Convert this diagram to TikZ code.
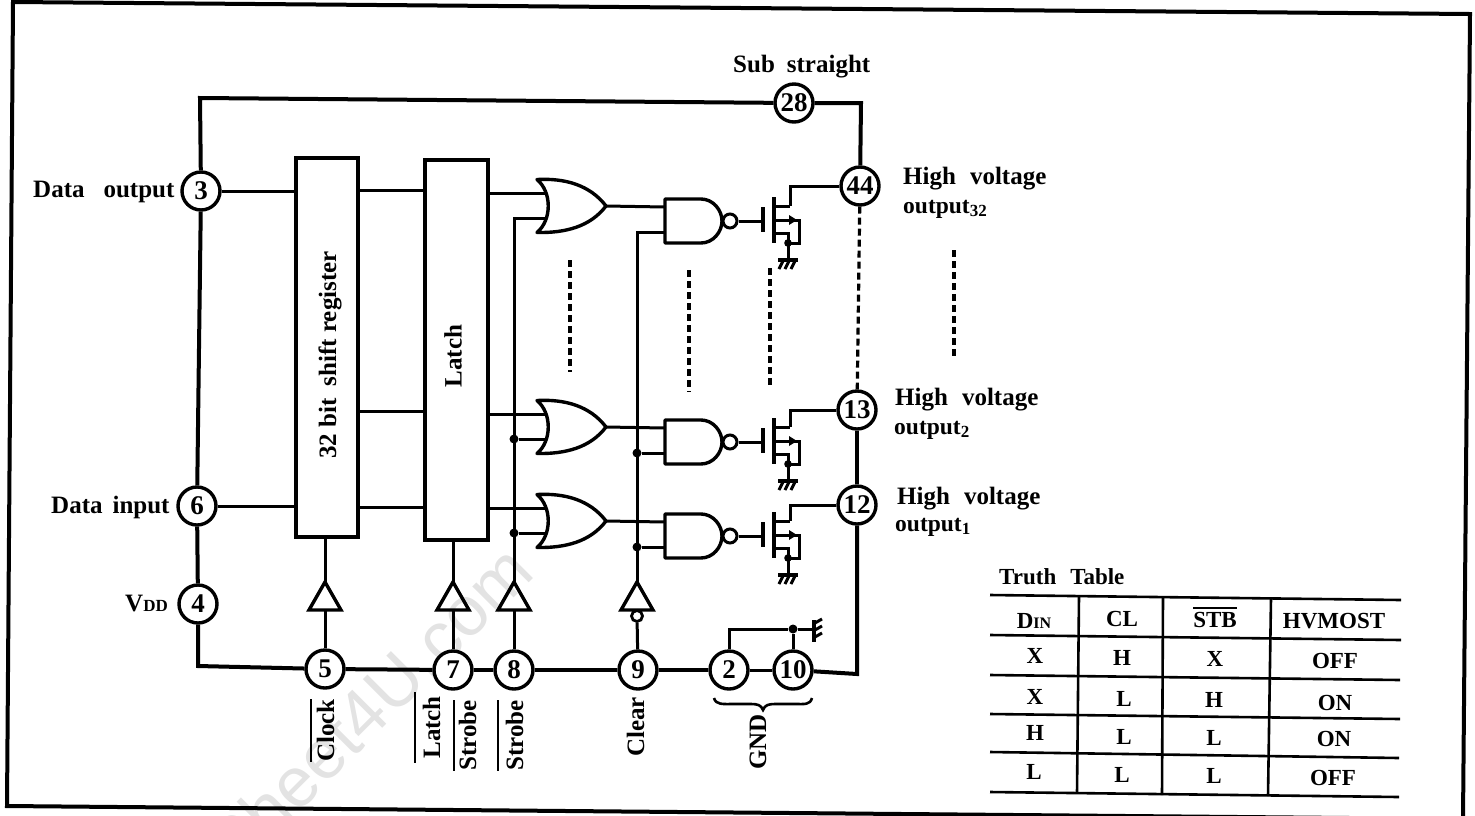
\documentclass[tikz,border=0pt]{standalone}
\usepackage{fontspec}
\setmainfont{Liberation Serif}[BoldFont=Liberation Serif Bold]
\newfontfamily\wmfont{Liberation Sans}
\newcommand\fs[1]{\fontsize{#1}{#1}\selectfont\bfseries}
\newcommand\ovl[2]{\vbox{\hrule height 2pt \kern #1pt \hbox{#2}}}
\tikzset{
  x=1pt,y=-1pt,
  wire/.style={line width=3pt},
  rail/.style={line width=4pt},
  gatebody/.style={line width=3.4pt,line join=round},
  dashwire/.style={line width=3.2pt,dash pattern=on 7pt off 4pt},
  pincirc/.style={circle,draw,line width=3.4pt,fill=white,minimum size=38pt,inner sep=0pt,font=\fs{27}},
  block/.style={draw,line width=4.5pt,inner sep=0pt,outer sep=0pt},
  dotmark/.style={circle,fill=black,inner sep=0pt,minimum size=9pt},
  lab/.style={anchor=base west,inner sep=0pt,font=\fs{25}},
  sublab/.style={anchor=base west,inner sep=0pt,font=\fs{23.5}},
  vlab/.style={anchor=base west,rotate=90,inner sep=0pt,font=\fs{25}},
  tcell/.style={anchor=center,inner sep=0pt,font=\fs{23},text height=16pt,text depth=0pt},
  tline/.style={line width=2.6pt},
}
\newcommand\orgate[3]{\begin{scope}[shift={(#2,#3)}]
  \draw[gatebody] (0,-26.5) .. controls (28,-28) and (53,-21) .. (69,0) .. controls (53,21) and (28,27) .. (0,26.5) .. controls (15,14) and (15,-14) .. cycle;
  \coordinate (#1-a) at (10,-13); \coordinate (#1-b) at (10,12); \coordinate (#1-o) at (69,0);
\end{scope}}
\newcommand\nandmos[3]{\begin{scope}[shift={(#2,#3)}]
  \draw[gatebody] (0,-22) -- (36,-22) .. controls (48,-22) and (57,-11) .. (57,0) .. controls (57,11) and (48,22) .. (36,22) -- (0,22) -- cycle;
  \node[circle,draw,line width=3pt,fill=white,minimum size=14pt,inner sep=0pt] (#1-bub) at (65,0) {};
  \coordinate (#1-a) at (0,-14); \coordinate (#1-b) at (0,11);
  \coordinate (#1-g) at (98,0); \coordinate (#1-d) at (125,-15);
  \draw[wire] (#1-bub) -- (#1-g);
  \draw[line width=4.5pt] (98,-14) -- (98,11);
  \draw[line width=4.5pt] (109,-24) -- (109,22);
  \draw[wire] (109,-15) -- (#1-d);
  \draw[wire] (109,-1) -- (134,-1) -- (134,22) -- (123,22);
  \fill (124,-6) -- (132,-1) -- (124,4) -- cycle;
  \draw[wire] (109,12) -- (123,12) -- (123,38);
  \fill (123,22) circle (3.8);
  \draw[line width=4pt] (113,39) -- (133,39);
  \draw[line width=3pt] (118,40) -- (114,48) (124,40) -- (120,48) (130,40) -- (126,48);
\end{scope}}
\newcommand\bufgate[2]{
  \draw[gatebody,line join=miter] (#2,582) -- (#2+16,610) -- (#2-16,610) -- cycle;
  \coordinate (#1-t) at (#2,582); \coordinate (#1-b) at (#2,610);
}
\begin{document}
\begin{tikzpicture}
\useasboundingbox (0,0) rectangle (1475,815);
\clip (0,0) rectangle (1475,815);
\node[rotate=45,anchor=east,inner sep=0pt,text=black!11,font=\wmfont\fontsize{70}{70}\selectfont] (wm) at (519,557) {DataSheet4U.com};
\draw[line width=4pt] (13,2) -- (1470,14) -- (1463,819) -- (7,806) -- cycle;

% pins
\node[pincirc] (p3) at (201,191) {3};
\node[pincirc] (p6) at (197,506) {6};
\node[pincirc] (p4) at (198,604) {4};
\node[pincirc] (p5) at (325,669) {5};
\node[pincirc] (p7) at (453,670) {7};
\node[pincirc] (p8) at (514,670) {8};
\node[pincirc] (p9) at (638,670) {9};
\node[pincirc] (p2) at (729,670) {2};
\node[pincirc] (p10) at (793,670) {10};
\node[pincirc] (p12) at (857,505) {12};
\node[pincirc] (p13) at (857,410) {13};
\node[pincirc] (p44) at (860,186) {44};
\node[pincirc] (p28) at (794,103) {28};
\coordinate (cTL) at (200,98);
\coordinate (cTR) at (861,103);
\coordinate (cBL) at (198,666);
\coordinate (cBR) at (857,674);

% blocks
\node[block,minimum width=62pt,minimum height=379pt] (sr) at (327,347.5) {};
\node[block,minimum width=63pt,minimum height=380pt] (la) at (456.5,350) {};
\node[inner sep=0pt,rotate=90,font=\fs{25}] (srt) at (330,355) {32 bit\hspace*{6pt} shift register};
\node[inner sep=0pt,rotate=90,font=\fs{25}] (lat) at (453,356) {Latch};

% gates
\orgate{o1}{537}{206}
\orgate{o2}{537}{427}
\orgate{o3}{537}{521}
\nandmos{n1}{665}{221}
\nandmos{n2}{665}{442}
\nandmos{n3}{665}{536}
\bufgate{b5}{325}
\bufgate{b7}{453}
\bufgate{b8}{514}
\bufgate{b9}{637}
\node[circle,draw,line width=2.8pt,fill=white,minimum size=11pt,inner sep=0pt] (b9n) at (637,616) {};

% outer rail
\draw[rail] (p3) -- (cTL) -- (p28);
\draw[rail] (p28) -- (cTR) -- (p44);
\draw[rail] (p3) -- (p6);
\draw[rail] (p6) -- (p4);
\draw[rail] (p4) -- (cBL) -- (p5);
\draw[rail] (p5) -- (p7);
\draw[rail] (p7) -- (p8);
\draw[rail] (p8) -- (p9);
\draw[rail] (p9) -- (p2);
\draw[wire] (p2) -- (p10);
\draw[rail] (p10) -- (cBR) -- (p12);
\draw[rail] (p12) -- (p13);
\draw[dashwire] (p44) -- (p13);

% data wires
\draw[wire] (p3) -- (p3 -| sr.west);
\draw[wire] (p6) -- (p6 -| sr.west);
\coordinate (w1) at (400,190);
\coordinate (w2) at (400,411);
\coordinate (w3) at (400,507);
\draw[wire] (w1 -| sr.east) -- (w1 -| la.west);
\draw[wire] (w2 -| sr.east) -- (w2 -| la.west);
\draw[wire] (w3 -| sr.east) -- (w3 -| la.west);
\draw[wire] (o1-a -| la.east) -- (o1-a);
\draw[wire] (o2-a -| la.east) -- (o2-a);
\draw[wire] (o3-a -| la.east) -- (o3-a);
\draw[wire] (o1-o) -- (n1-a);
\draw[wire] (o2-o) -- (n2-a);
\draw[wire] (o3-o) -- (n3-a);

% control wires
\draw[wire] (p5) -- (b5-b);
\draw[wire] (b5-t) -- (b5-t |- sr.south);
\draw[wire] (p7) -- (b7-b);
\draw[wire] (b7-t) -- (b7-t |- la.south);
\draw[wire] (p8) -- (b8-b);
\draw[wire] (p9) -- (b9n);
\draw[wire] (b8-t) |- (o1-b);
\draw[wire] (b9-t) |- (n1-b);
\node[dotmark] (d1) at (o2-b -| b8-t) {};
\node[dotmark] (d2) at (o3-b -| b8-t) {};
\node[dotmark] (d3) at (n2-b -| b9-t) {};
\node[dotmark] (d4) at (n3-b -| b9-t) {};
\draw[wire] (d1) -- (o2-b);
\draw[wire] (d2) -- (o3-b);
\draw[wire] (d3) -- (n2-b);
\draw[wire] (d4) -- (n3-b);

% mosfet drains
\draw[wire] (n1-d) |- (p44);
\draw[wire] (n2-d) |- (p13);
\draw[wire] (n3-d) |- (p12);

% ground
\coordinate (gnd) at (813,629);
\node[dotmark] (gd) at (793,629) {};
\draw[wire] (p2) |- (gd);
\draw[wire] (gd) -- (gnd);
\draw[wire] (p10) -- (gd);
\draw[line width=4pt] (814,620) -- (814,642);
\draw[line width=3pt] (815,623) -- (822,619) (815,630) -- (822,626) (815,637) -- (822,633);

% brace
\draw[line width=2.6pt] (714,698) .. controls (716,705) and (722,704) .. (735,704) -- (750,704) .. controls (758,704) and (761,705) .. (763,710) .. controls (765,705) and (768,704) .. (776,704) -- (795,704) .. controls (805,704) and (810,705) .. (812,698);

% ellipsis dashes
\coordinate (e1a) at (570,260); \coordinate (e1b) at (570,372);
\coordinate (e2a) at (689,270); \coordinate (e2b) at (689,392);
\coordinate (e3a) at (770,268); \coordinate (e3b) at (770,388);
\coordinate (e4a) at (954,250); \coordinate (e4b) at (954,358);
\draw[dashwire] (e1a) -- (e1b);
\draw[dashwire] (e2a) -- (e2b);
\draw[dashwire] (e3a) -- (e3b);
\draw[dashwire] (e4a) -- (e4b);

% labels
\node[lab] (tSub) at (733,72) {Sub\hspace*{12pt}straight};
\node[lab] (tDO) at (33,197) {Data\hspace*{19pt}output};
\node[lab] (tDI) at (51,513) {Data\hspace*{10pt}input};
\node[lab] (tVD) at (125,611) {V\fontsize{17}{17}\selectfont DD};
\node[lab] (tH1) at (903,184) {High\hspace*{14pt}voltage};
\node[sublab] (tO1) at (903,213) {output{\fontsize{17}{17}\selectfont\raisebox{-3pt}{32}}};
\node[lab] (tH2) at (895,405) {High\hspace*{14pt}voltage};
\node[sublab] (tO2) at (894,434) {output{\fontsize{17}{17}\selectfont\raisebox{-3pt}{2}}};
\node[lab] (tH3) at (897,504) {High\hspace*{14pt}voltage};
\node[sublab] (tO3) at (895,531) {output{\fontsize{17}{17}\selectfont\raisebox{-3pt}{1}}};
\node[vlab] (tClock) at (334,762) {\ovl{5}{Clock}};
\node[vlab] (tLatch) at (440,763) {\ovl{7}{\,Latch\,}};
\node[vlab] (tStr1) at (476,771) {\ovl{4}{Strobe}};
\node[vlab] (tStr2) at (523,771) {\ovl{7}{Strobe}};
\node[vlab] (tClear) at (644,757) {Clear};
\node[vlab] (tGND) at (766,770) {GND};

% truth table
\node[anchor=base west,inner sep=0pt,font=\fs{23}] (tTT) at (999,584) {Truth\hspace*{14pt}Table};
\draw[tline] (990,595) -- (1401,600);
\draw[tline] (990,635) -- (1401,640);
\draw[tline] (990,675) -- (1400,680);
\draw[tline] (990,714) -- (1400,719);
\draw[tline] (990,752) -- (1399,758);
\draw[tline] (990,792) -- (1399,797);
\draw[tline] (1079,596) -- (1077,793);
\draw[tline] (1163,597) -- (1162,795);
\draw[tline] (1271,598) -- (1268,796);
\node[tcell] (c11) at (1034,620) {D{\fontsize{16}{16}\selectfont IN}};
\node[tcell] (c12) at (1122,618) {CL};
\node[tcell] (c13) at (1215,619) {\ovl{3}{STB}};
\node[tcell] (c14) at (1334,620) {HVMOST};
\node[tcell] (c21) at (1035,655) {X};
\node[tcell] (c22) at (1122,657) {H};
\node[tcell] (c23) at (1215,658) {X};
\node[tcell] (c24) at (1335,660) {OFF};
\node[tcell] (c31) at (1035,696) {X};
\node[tcell] (c32) at (1124,698) {L};
\node[tcell] (c33) at (1214,699) {H};
\node[tcell] (c34) at (1335,702) {ON};
\node[tcell] (c41) at (1035,732) {H};
\node[tcell] (c42) at (1124,736) {L};
\node[tcell] (c43) at (1214,737) {L};
\node[tcell] (c44) at (1334,738) {ON};
\node[tcell] (c51) at (1034,771) {L};
\node[tcell] (c52) at (1122,774) {L};
\node[tcell] (c53) at (1214,775) {L};
\node[tcell] (c54) at (1333,777) {OFF};
\end{tikzpicture}
\end{document}
